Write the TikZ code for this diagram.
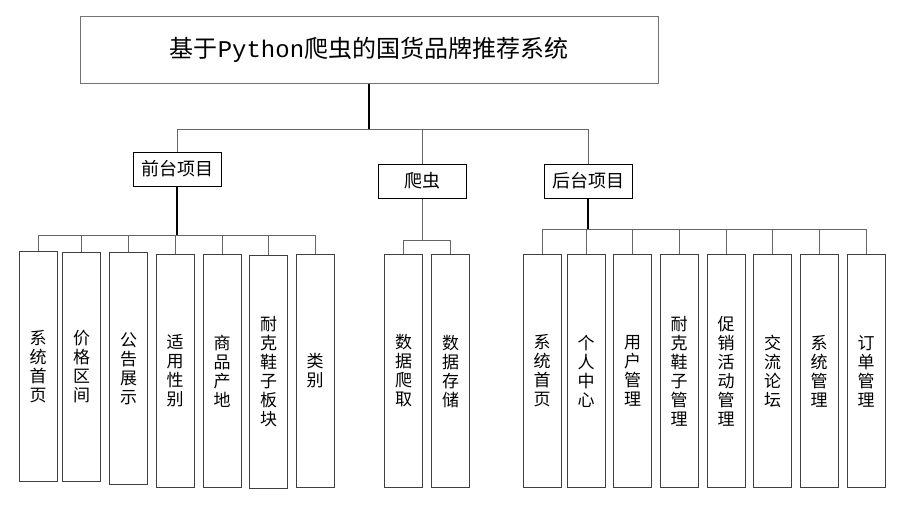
\documentclass[tikz,border=0pt]{standalone}
\usepackage{fontspec}
\setmainfont{Noto Sans CJK SC}
\setmonofont{Liberation Mono}
\usetikzlibrary{positioning,calc}

\begin{document}
\begin{tikzpicture}[
    x=1pt, y=-1pt,
    line width=1pt,
    box/.style={draw=black!75, fill=white, inner sep=0pt},
    title/.style={box, draw=black!55, minimum width=578pt, minimum height=67pt,
      font=\fontsize{24}{27}\selectfont},
    branch/.style={box, draw=black, minimum width=88pt, minimum height=34pt,
      font=\fontsize{18}{20}\selectfont},
    leaf/.style={box, anchor=north, minimum width=38pt, text width=19pt,
      align=center, font=\fontsize{17}{19}\selectfont},
    link/.style={draw=black!60},
    stem/.style={draw=black, line width=1.6pt}
  ]

\useasboundingbox (0,0) rectangle (899,504);

\node[title] (top) at (369,49.5) {基于\texttt{Python}爬虫的国货品牌推荐系统};

\node[branch] (front)   at (177,169)   {前台项目};
\node[branch] (crawler) at (422.5,181) {爬虫};
\node[branch] (back)    at (588,181)   {后台项目};

% front-end leaves
\foreach \x/\y/\h/\txt [count=\i] in {
    38/251/230/系\\统\\首\\页,
    81.5/252/229/价\\格\\区\\间,
    128.5/252/232/公\\告\\展\\示,
    175/254/233/适\\用\\性\\别,
    222/254/233/商\\品\\产\\地,
    268.5/255/233/耐\\克\\鞋\\子\\板\\块,
    315/254/233/类\\别}
  \node[leaf, minimum height=\h pt] (f\i) at (\x,\y) {\txt};

% crawler leaves
\foreach \x/\txt [count=\i] in {403.5/数\\据\\爬\\取, 450.5/数\\据\\存\\储}
  \node[leaf, minimum height=233pt] (c\i) at (\x,254) {\txt};

% back-end leaves
\foreach \x/\txt [count=\i] in {
    542/系\\统\\首\\页,
    586/个\\人\\中\\心,
    632.5/用\\户\\管\\理,
    679/耐\\克\\鞋\\子\\管\\理,
    726/促\\销\\活\\动\\管\\理,
    772.5/交\\流\\论\\坛,
    819/系\\统\\管\\理,
    866/订\\单\\管\\理}
  \node[leaf, minimum height=233pt] (b\i) at (\x,254) {\txt};

% connectors
\draw[stem] (top.south) -- ++(0,46) coordinate (hub);
\draw[link] (hub) -| (front.north);
\draw[link] (hub) -| (crawler.north);
\draw[link] (hub) -| (back.north);

\draw[stem] (front.south) -- ++(0,49) coordinate (fhub);
\foreach \i in {1,...,7}
  \draw[link] (fhub) -| (f\i.north);

\draw[link] (crawler.south) -- ++(0,42) coordinate (chub);
\foreach \i in {1,2}
  \draw[link] (chub) -| (c\i.north);

\draw[stem] (back.south) -- ++(0,31) coordinate (bhub);
\foreach \i in {1,...,8}
  \draw[link] (bhub) -| (b\i.north);
\end{tikzpicture}
\end{document}
